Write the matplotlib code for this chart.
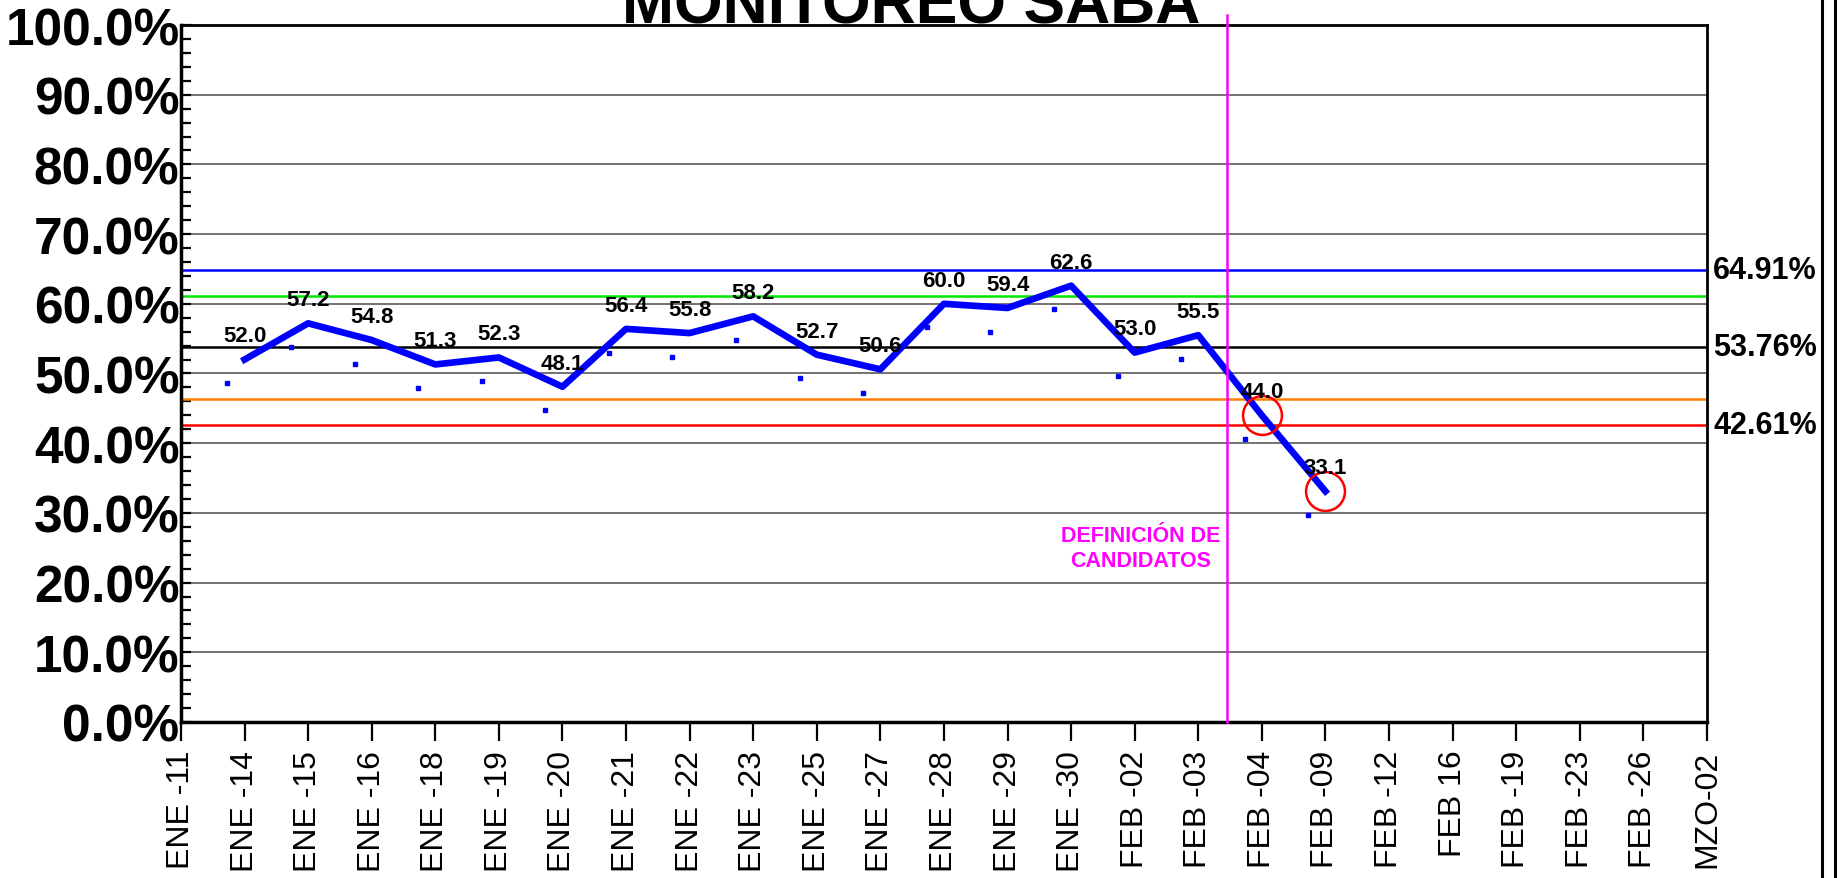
import matplotlib
matplotlib.use("Agg")
import matplotlib.pyplot as plt
from matplotlib.lines import Line2D

plt.rcParams['font.family'] = ['Liberation Sans', 'DejaVu Sans']

# --- data ---
dates = ["ENE -11", "ENE -14", "ENE -15", "ENE -16", "ENE -18", "ENE -19", "ENE -20",
         "ENE -21", "ENE -22", "ENE -23", "ENE -25", "ENE -27", "ENE -28", "ENE -29",
         "ENE -30", "FEB -02", "FEB -03", "FEB -04", "FEB -09", "FEB -12", "FEB 16",
         "FEB -19", "FEB -23", "FEB -26", "MZO-02"]
saba = [52.0, 57.2, 54.8, 51.3, 52.3, 48.1, 56.4, 55.8, 58.2, 52.7, 50.6, 60.0,
        59.4, 62.6, 53.0, 55.5, 44.0, 33.1]
saba_start = 1  # first point is ENE -14
dots = [48.6, 53.8, 51.4, 47.9, 48.9, 44.7, 53.0, 52.4, 54.8, 49.3, 47.2, 56.6,
        56.0, 59.2, 49.6, 52.1, 40.6, 29.7]
ref_values = [64.91, 61.19, 53.76, 46.33, 42.61]
ref_colors = ["#0000ff", "#00e600", "#000000", "#ff8000", "#ff0000"]
ref_labels = {64.91: "64.91%", 53.76: "53.76%", 42.61: "42.61%"}
circled = ["FEB -04", "FEB -09"]
event_pos = 16.45  # between FEB -03 and FEB -04
event_text = "DEFINICIÓN DE\nCANDIDATOS"

fig = plt.figure(figsize=(18.37, 8.79), dpi=100)
ax = fig.add_axes([0.0985, 0.1775, 0.9292 - 0.0985, 0.9704 - 0.1775])

xs = list(range(saba_start, saba_start + len(saba)))

# gridlines
for g in range(10, 100, 10):
    ax.axhline(g, color="#5a5a5a", lw=1.2, zorder=1)

# reference lines
for v, c in zip(ref_values, ref_colors):
    ax.axhline(v, color=c, lw=1.8, zorder=2)
    if v in ref_labels:
        ax.text(24.1, v, ref_labels[v], fontsize=22, fontweight="bold",
                va="center", ha="left", clip_on=False)

# shadow-like small dots
ax.plot([x - 0.27 for x in xs], dots, ls="none", marker="s", ms=3,
        color="#0000ff", zorder=3)

# main series
ax.plot(xs, saba, color="#0000ff", lw=4.8, zorder=4)
for x, v in zip(xs, saba):
    ax.annotate(f"{v:.1f}", (x, v), xytext=(0, 17), textcoords="offset points",
                ha="center", va="center", fontsize=16, fontweight="bold", zorder=6)

# circled points
ci = [dates.index(d) for d in circled]
ax.plot(ci, [saba[i - saba_start] for i in ci], ls="none", marker="o", ms=28,
        mfc="none", mec="#ff0000", mew=1.8, zorder=5)

# event line
ax.axvline(event_pos, ymin=0, ymax=1.015, color="#ff00ff", lw=1.8,
           clip_on=False, zorder=5)
ax.text(15.1, 25.0, event_text, color="#ff00ff", fontsize=15.5, fontweight="bold",
        ha="center", va="center", multialignment="center", linespacing=1.25)

ax.set_xlim(0, len(dates) - 1)
ax.set_ylim(0, 100)
ax.set_xticks(range(len(dates)))
ax.set_xticklabels(dates, rotation=90, fontsize=23)
ax.set_yticks(range(0, 101, 10))
ax.set_yticklabels([f"{v:.1f}%" for v in range(0, 101, 10)], fontsize=37,
                   fontweight="bold")
ax.set_yticks(range(0, 101, 2), minor=True)
ax.tick_params(axis="y", which="both", direction="in", length=7, width=1.6, pad=1)
ax.tick_params(axis="x", direction="out", length=14, width=1.6, pad=6)

for s in ["left", "bottom"]:
    ax.spines[s].set_linewidth(2.5)
for s in ["top", "right"]:
    ax.spines[s].set_linewidth(2)

fig.text(911 / 1837, 1 - 23 / 879, "MONITOREO SABA", fontsize=45,
         fontweight="bold", ha="center", va="baseline")

# double border on the right
for xpx in (1822, 1835):
    fig.add_artist(Line2D([xpx / 1837, xpx / 1837], [0, 1], color="black", lw=2.2))

fig.savefig("out.png", dpi=100)
